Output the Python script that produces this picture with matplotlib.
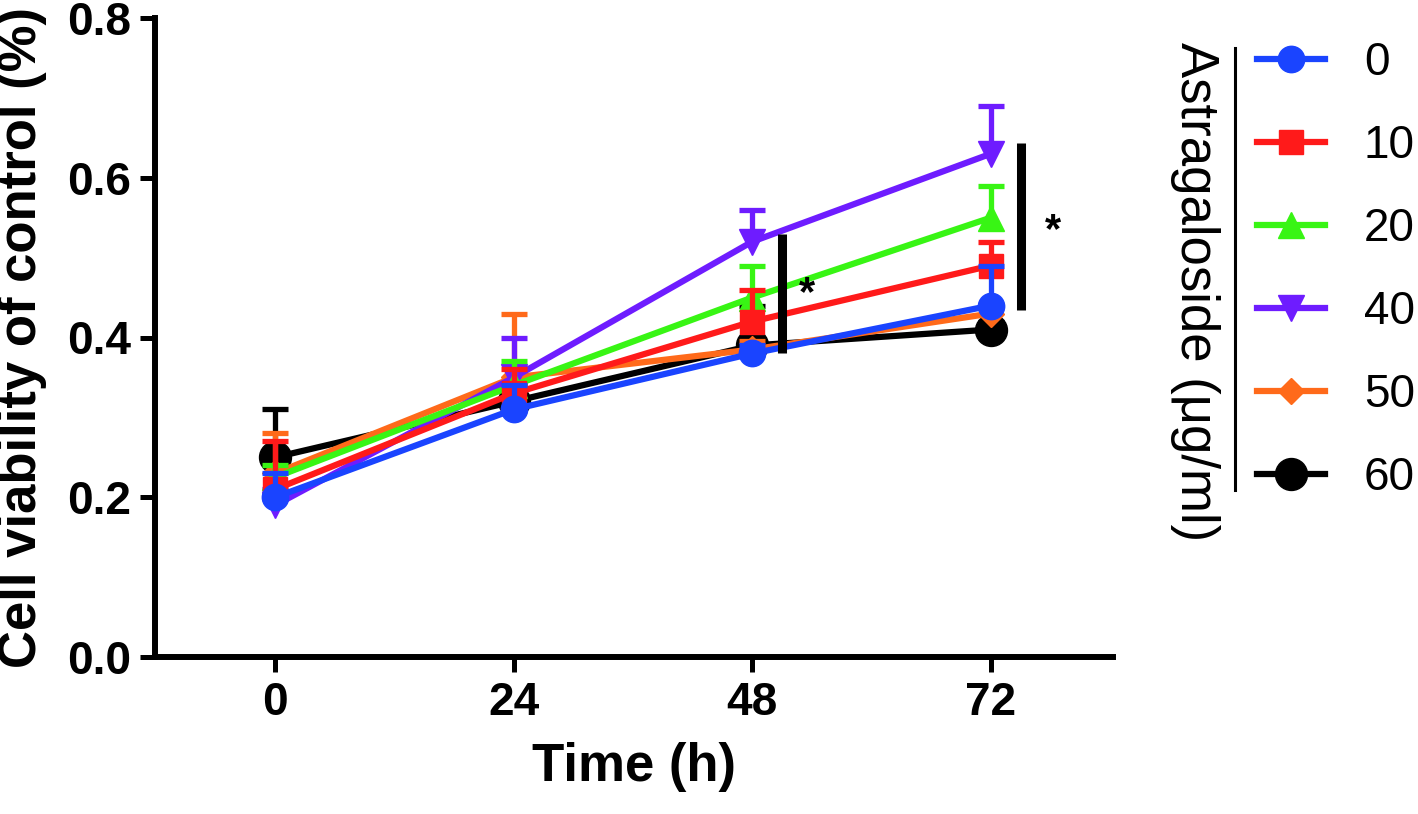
import numpy as np
import matplotlib
matplotlib.use("Agg")
import matplotlib.pyplot as plt
from matplotlib.lines import Line2D

plt.rcParams['font.family'] = ['Liberation Sans', 'DejaVu Sans']

# data
hours = [0, 24, 48, 72]
doses = ['0', '10', '20', '40', '50', '60']
means = {
    '0':  [0.20, 0.31, 0.38, 0.44],
    '10': [0.21, 0.33, 0.42, 0.49],
    '20': [0.225, 0.34, 0.45, 0.55],
    '40': [0.19, 0.35, 0.52, 0.63],
    '50': [0.23, 0.35, 0.385, 0.43],
    '60': [0.25, 0.32, 0.39, 0.41],
}
upper_err = {
    '0':  [0.03, 0.03, 0.01, 0.05],
    '10': [0.06, 0.03, 0.04, 0.03],
    '20': [0.015, 0.03, 0.04, 0.04],
    '40': [0.02, 0.05, 0.04, 0.06],
    '50': [0.05, 0.08, 0.01, 0.01],
    '60': [0.06, 0.02, 0.05, 0.01],
}
colors = ['#1a44ff', '#ff1a1a', '#38f514', '#6e1cff', '#ff6a1a', '#000000']
markers = ['o', 's', '^', 'v', 'D', 'o']
msizes = [19, 17, 19, 19, 13, 23]

# significance bars: x, low, high
sig_x = [51, 75]
sig_lo = [0.38, 0.434]
sig_hi = [0.53, 0.644]
star_x = [53.5, 78.3]
star_y = [0.47, 0.55]

fig = plt.figure(figsize=(14.18, 8.14), dpi=100)
ax = fig.add_axes([155 / 1418, 1 - 657 / 814, (1113 - 155) / 1418, (657 - 18) / 814])

handles = []
for i, d in enumerate(doses):
    y = np.array(means[d])
    e = np.array(upper_err[d])
    cont = ax.errorbar(hours, y, yerr=[np.zeros_like(e), e], color=colors[i],
                       marker=markers[i], ms=msizes[i], lw=4.5, elinewidth=3.8,
                       capsize=9.5, capthick=3.8, zorder=10 - i)
    cont[1][0].set_visible(False)  # only the upper half of the bar
    handles.append(cont[0])

for x, lo, hi in zip(sig_x, sig_lo, sig_hi):
    ax.plot([x, x], [lo, hi], color='black', lw=6.5, solid_capstyle='butt', zorder=12)
for x, y in zip(star_x, star_y):
    ax.text(x, y - 0.03, '*', fontsize=30, fontweight='bold', ha='center', va='baseline',
            zorder=15)

ax.set_xlim(-12.1, 84.3)
ax.set_ylim(0, 0.8)
ax.set_xticks(hours)
ax.set_yticks([0, 0.2, 0.4, 0.6, 0.8])
ax.set_yticklabels(['0.0', '0.2', '0.4', '0.6', '0.8'])
ax.spines['top'].set_visible(False)
ax.spines['right'].set_visible(False)
for s in ['left', 'bottom']:
    ax.spines[s].set_linewidth(4.3)
ax.tick_params(width=3.6, length=10.5, labelsize=33, pad=7)
for lab in ax.get_xticklabels() + ax.get_yticklabels():
    lab.set_fontweight('bold')
ax.set_xlabel('Time (h)', fontsize=38, fontweight='bold', labelpad=12)
ax.set_ylabel('Cell viability of control (%)', fontsize=38, fontweight='bold', labelpad=14)

leg = fig.legend(handles, doses, loc='upper left', bbox_to_anchor=(1257 / 1418, 1 - 41 / 814),
                 frameon=False, fontsize=33, handlelength=1.48, handletextpad=0.85,
                 labelspacing=0.85, borderpad=0, borderaxespad=0)
fig.add_artist(Line2D([1235 / 1418, 1235 / 1418], [1 - 48 / 814, 1 - 490 / 814],
                      transform=fig.transFigure, color='black', lw=2.2))
fig.text(1195 / 1418, 1 - 292 / 814, 'Astragaloside (μg/ml)', rotation=270,
         fontsize=38, ha='center', va='center')

fig.savefig('out.png', dpi=100)
